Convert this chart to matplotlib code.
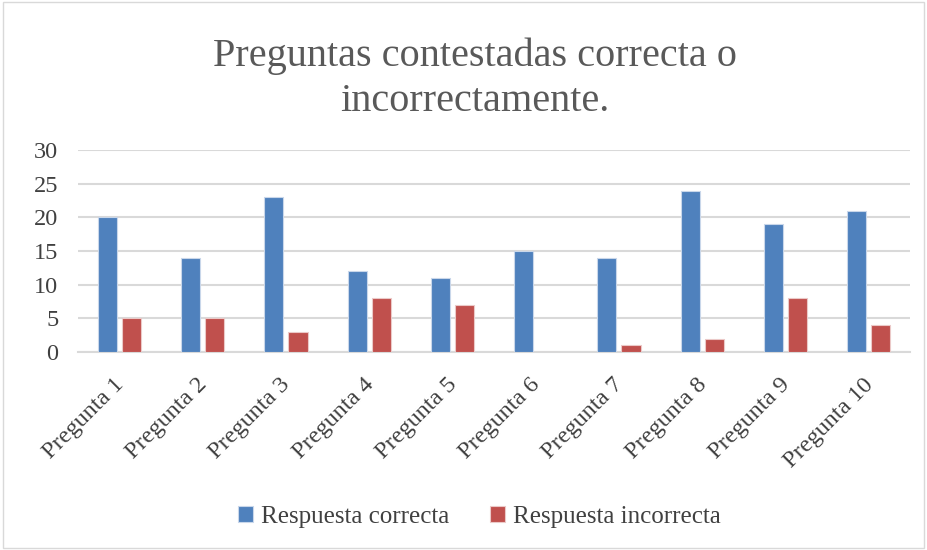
import matplotlib
matplotlib.use("Agg")
import matplotlib.pyplot as plt
import matplotlib.transforms as mtransforms
import numpy as np

categories = ["Pregunta 1", "Pregunta 2", "Pregunta 3", "Pregunta 4", "Pregunta 5",
              "Pregunta 6", "Pregunta 7", "Pregunta 8", "Pregunta 9", "Pregunta 10"]
correcta = [20, 14, 23, 12, 11, 15, 14, 24, 19, 21]
incorrecta = [5, 5, 3, 8, 7, 0, 1, 2, 8, 4]
yticks = [0, 5, 10, 15, 20, 25, 30]

plt.rcParams['font.family'] = ['Liberation Serif', 'DejaVu Serif']

fig = plt.figure(figsize=(9.27, 5.5), dpi=100)
ax = fig.add_axes([0.084, 0.36, 0.898, 0.367])

x = np.arange(len(categories))
w = 0.23
ax.bar(x - w/2 - 0.03, correcta, w, color='#4F81BD', edgecolor='#C9D7EA', linewidth=0.8,
       label='Respuesta correcta', zorder=3)
ax.bar(x + w/2 + 0.03, incorrecta, w, color='#C0504D', edgecolor='#EBC9C8', linewidth=0.8,
       label='Respuesta incorrecta', zorder=3)

ax.set_xlim(-0.5, len(categories) - 0.5)
ax.set_ylim(0, 30)
ax.set_yticks(yticks)
ax.set_yticklabels([str(t) for t in yticks], fontsize=17.5, color='#404040')
ax.yaxis.grid(True, color='#D9D9D9', linewidth=1.5, zorder=0)
ax.set_axisbelow(True)
ax.tick_params(axis='y', length=0, pad=14)
ax.tick_params(axis='x', length=0, pad=24)
ax.set_xticks(x)
ax.set_xticklabels(categories, rotation=45, ha='right', va='baseline', rotation_mode='anchor',
                   fontsize=17.5, color='#404040')
offset = mtransforms.ScaledTranslation(5 / 100, 0, fig.dpi_scale_trans)
for lbl in ax.get_xticklabels():
    lbl.set_transform(lbl.get_transform() + offset)
for s in ['top', 'right', 'left']:
    ax.spines[s].set_visible(False)
ax.spines['bottom'].set_color('#D9D9D9')
ax.spines['bottom'].set_linewidth(1.5)

fig.text(0.512, 0.857, "Preguntas contestadas correcta o\nincorrectamente.", ha='center', va='center',
         fontsize=29, color='#595959', linespacing=1.28)

leg = fig.legend(loc='center', bbox_to_anchor=(0.517, 0.06), ncol=2, frameon=False,
                 fontsize=18, handlelength=0.6, handleheight=0.6, columnspacing=1.6,
                 handletextpad=0.35, labelcolor='#404040')

border = plt.Rectangle((0.003, 0.003), 0.994, 0.994, transform=fig.transFigure,
                       fill=False, edgecolor='#D9D9D9', linewidth=1)
fig.patches.append(border)

fig.savefig("out.png", dpi=100)
